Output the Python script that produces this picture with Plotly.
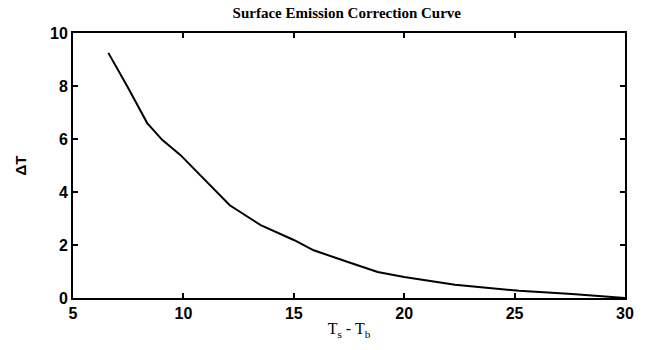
import plotly.graph_objects as go

# Data
x_vals = [6.6, 7.45, 8.36, 9.05, 9.86, 10.7, 11.2, 12.1, 13.5, 15.0, 15.9, 16.5, 17.45, 18.8, 20.0, 22.3, 25.2, 27.6, 30.0]
y_vals = [9.25, 8.0, 6.6, 5.96, 5.4, 4.7, 4.26, 3.5, 2.75, 2.19, 1.8, 1.62, 1.36, 0.98, 0.79, 0.5, 0.27, 0.15, 0.0]
x_ticks = [5, 10, 15, 20, 25, 30]
y_ticks = [0, 2, 4, 6, 8, 10]

fig = go.Figure()
fig.add_trace(go.Scatter(x=x_vals, y=y_vals, mode="lines",
                         line=dict(color="black", width=2),
                         showlegend=False))

axis_common = dict(showline=True, linecolor="black", linewidth=2, mirror="ticks",
                   ticks="inside", ticklen=5, tickwidth=1.5, tickcolor="black",
                   showgrid=False, zeroline=False,
                   tickfont=dict(family="Liberation Sans", size=16, color="black", weight="bold"))

fig.update_layout(
    width=647, height=350,
    margin=dict(l=73, r=22, t=33, b=52),
    paper_bgcolor="white", plot_bgcolor="white",
    title=dict(text="<b>Surface Emission Correction Curve</b>", x=0.536, xanchor="center",
               y=0.965, yanchor="middle",
               font=dict(family="Liberation Serif", size=15, color="black")),
    xaxis=dict(range=[5, 30], tickvals=x_ticks, **axis_common),
    yaxis=dict(range=[0, 10], tickvals=y_ticks, **axis_common),
)

fig.update_xaxes(title=dict(text="T<sub>s</sub> - T<sub>b</sub>", standoff=2,
                            font=dict(family="Liberation Serif", size=16, color="black")))
fig.update_yaxes(title=dict(text="<b>ΔT</b>", standoff=20,
                            font=dict(family="Liberation Sans", size=15, color="black")))

fig.write_html("out.html")
